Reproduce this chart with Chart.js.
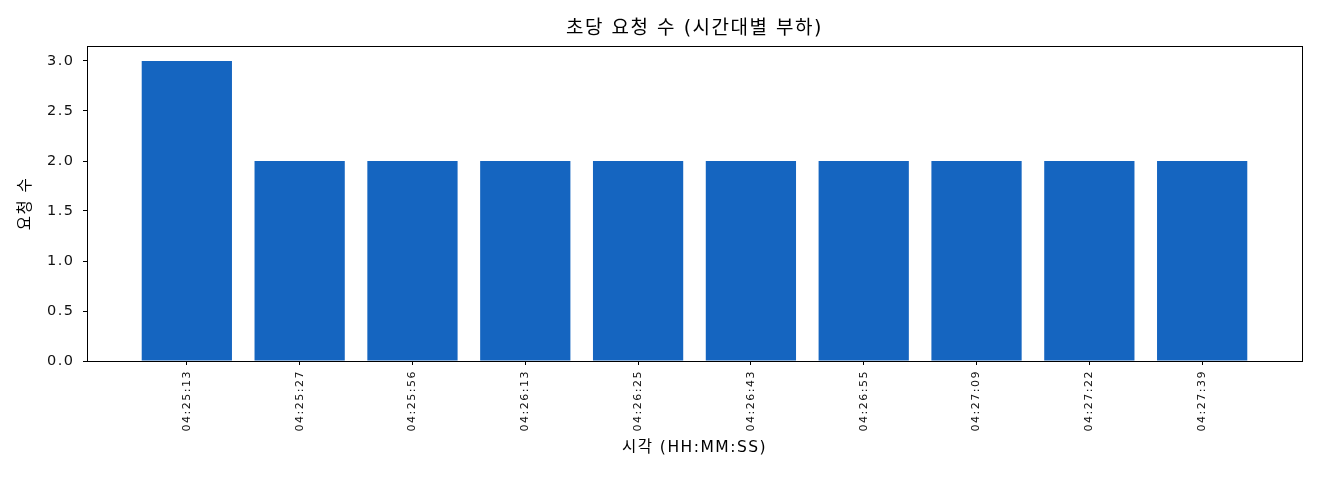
<!DOCTYPE html>
<html>
<head>
<meta charset="utf-8">
<script src="https://cdn.jsdelivr.net/npm/chart.js@4/dist/chart.umd.min.js"></script>
<style>
  html, body { margin: 0; padding: 0; background: #fff; }
  #wrap { width: 1320px; height: 480px; }
</style>
</head>
<body>
<div id="wrap"><canvas id="chart"></canvas></div>
<script>
const times = ["04:25:13", "04:25:27", "04:25:56", "04:26:13", "04:26:25",
  "04:26:43", "04:26:55", "04:27:09", "04:27:22", "04:27:39"];
const requests = [3, 2, 2, 2, 2, 2, 2, 2, 2, 2];
const yTicks = [0, 0.5, 1, 1.5, 2, 2.5, 3];

const FONT = "'DejaVu Sans', 'Noto Sans CJK KR', sans-serif";

// the reference font is wide; space the letters a bit
const spacing = {
  id: "spacing",
  beforeLayout(chart) { chart.ctx.letterSpacing = "1.5px"; },
  beforeDraw(chart) { chart.ctx.letterSpacing = "1.5px"; },
};

// draw the full box around the plot, like matplotlib spines
const frame = {
  id: "frame",
  afterDatasetsDraw(chart) {
    const { ctx, chartArea: a } = chart;
    ctx.save();
    ctx.strokeStyle = "#000";
    ctx.lineWidth = 1;
    ctx.strokeRect(a.left + 0.5, a.top + 0.5, a.right - a.left, a.bottom - a.top);
    ctx.restore();
  },
};

new Chart(document.getElementById("chart"), {
  type: "bar",
  data: {
    datasets: [
      {
        label: "요청 수",
        data: requests.map((v, i) => ({ x: i, y: v })),
        xAxisID: "x",
        yAxisID: "y",
        backgroundColor: "#1565c0",
        borderWidth: 0,
        inflateAmount: 0,
        barPercentage: 0.8,
        categoryPercentage: 1,
      },
    ],
  },
  options: {
    responsive: true,
    maintainAspectRatio: false,
    animation: false,
    layout: { padding: { left: 0, right: 18, top: 0, bottom: 0 } },
    plugins: {
      legend: { display: false },
      tooltip: { enabled: false },
    },
    scales: {
      x: {
        type: "linear",
        min: -0.885,
        max: 9.885,
        offset: false,
        afterBuildTicks: (axis) => {
          axis.ticks = times.map((_, i) => ({ value: i }));
        },
        afterFit: (axis) => {
          axis.height = 119;
        },
        grid: {
          display: true,
          offset: false,
          drawOnChartArea: false,
          drawTicks: true,
          tickLength: 4,
          color: "#000",
        },
        border: { display: true, color: "#000" },
        ticks: {
          autoSkip: false,
          minRotation: 90,
          maxRotation: 90,
          padding: 5,
          color: "#111",
          font: { family: FONT, size: 11 },
          callback: (v) => times[v],
        },
        title: {
          display: true,
          text: "시각 (HH:MM:SS)",
          color: "#000",
          font: { family: FONT, size: 15.5 },
          padding: { top: 4, bottom: 22.7 },
        },
      },
      // top axis only carries the chart title, centred over the plot
      top: {
        type: "linear",
        position: "top",
        min: -0.885,
        max: 9.885,
        afterFit: (axis) => {
          axis.height = 46;
        },
        grid: { display: false },
        border: { display: true, color: "#000" },
        ticks: { display: false },
        title: {
          display: true,
          text: "초당 요청 수 (시간대별 부하)",
          color: "#000",
          font: { family: FONT, size: 19, weight: "normal" },
          padding: { top: 17.6, bottom: 0 },
        },
      },
      y: {
        min: 0,
        max: 3.15,
        afterBuildTicks: (axis) => {
          axis.ticks = yTicks.map((v) => ({ value: v }));
        },
        afterFit: (axis) => {
          axis.width = 87;
        },
        grid: {
          display: true,
          drawOnChartArea: false,
          drawTicks: true,
          tickLength: 4,
          color: "#000",
        },
        border: { display: true, color: "#000" },
        ticks: {
          padding: 8.5,
          color: "#111",
          font: { family: FONT, size: 14.5 },
          callback: (v) => v.toFixed(1),
        },
        title: {
          display: true,
          text: "요청 수",
          color: "#000",
          font: { family: FONT, size: 15.5 },
          padding: { top: 17, bottom: 4 },
        },
      },
    },
  },
  plugins: [spacing, frame],
});
</script>
</body>
</html>
